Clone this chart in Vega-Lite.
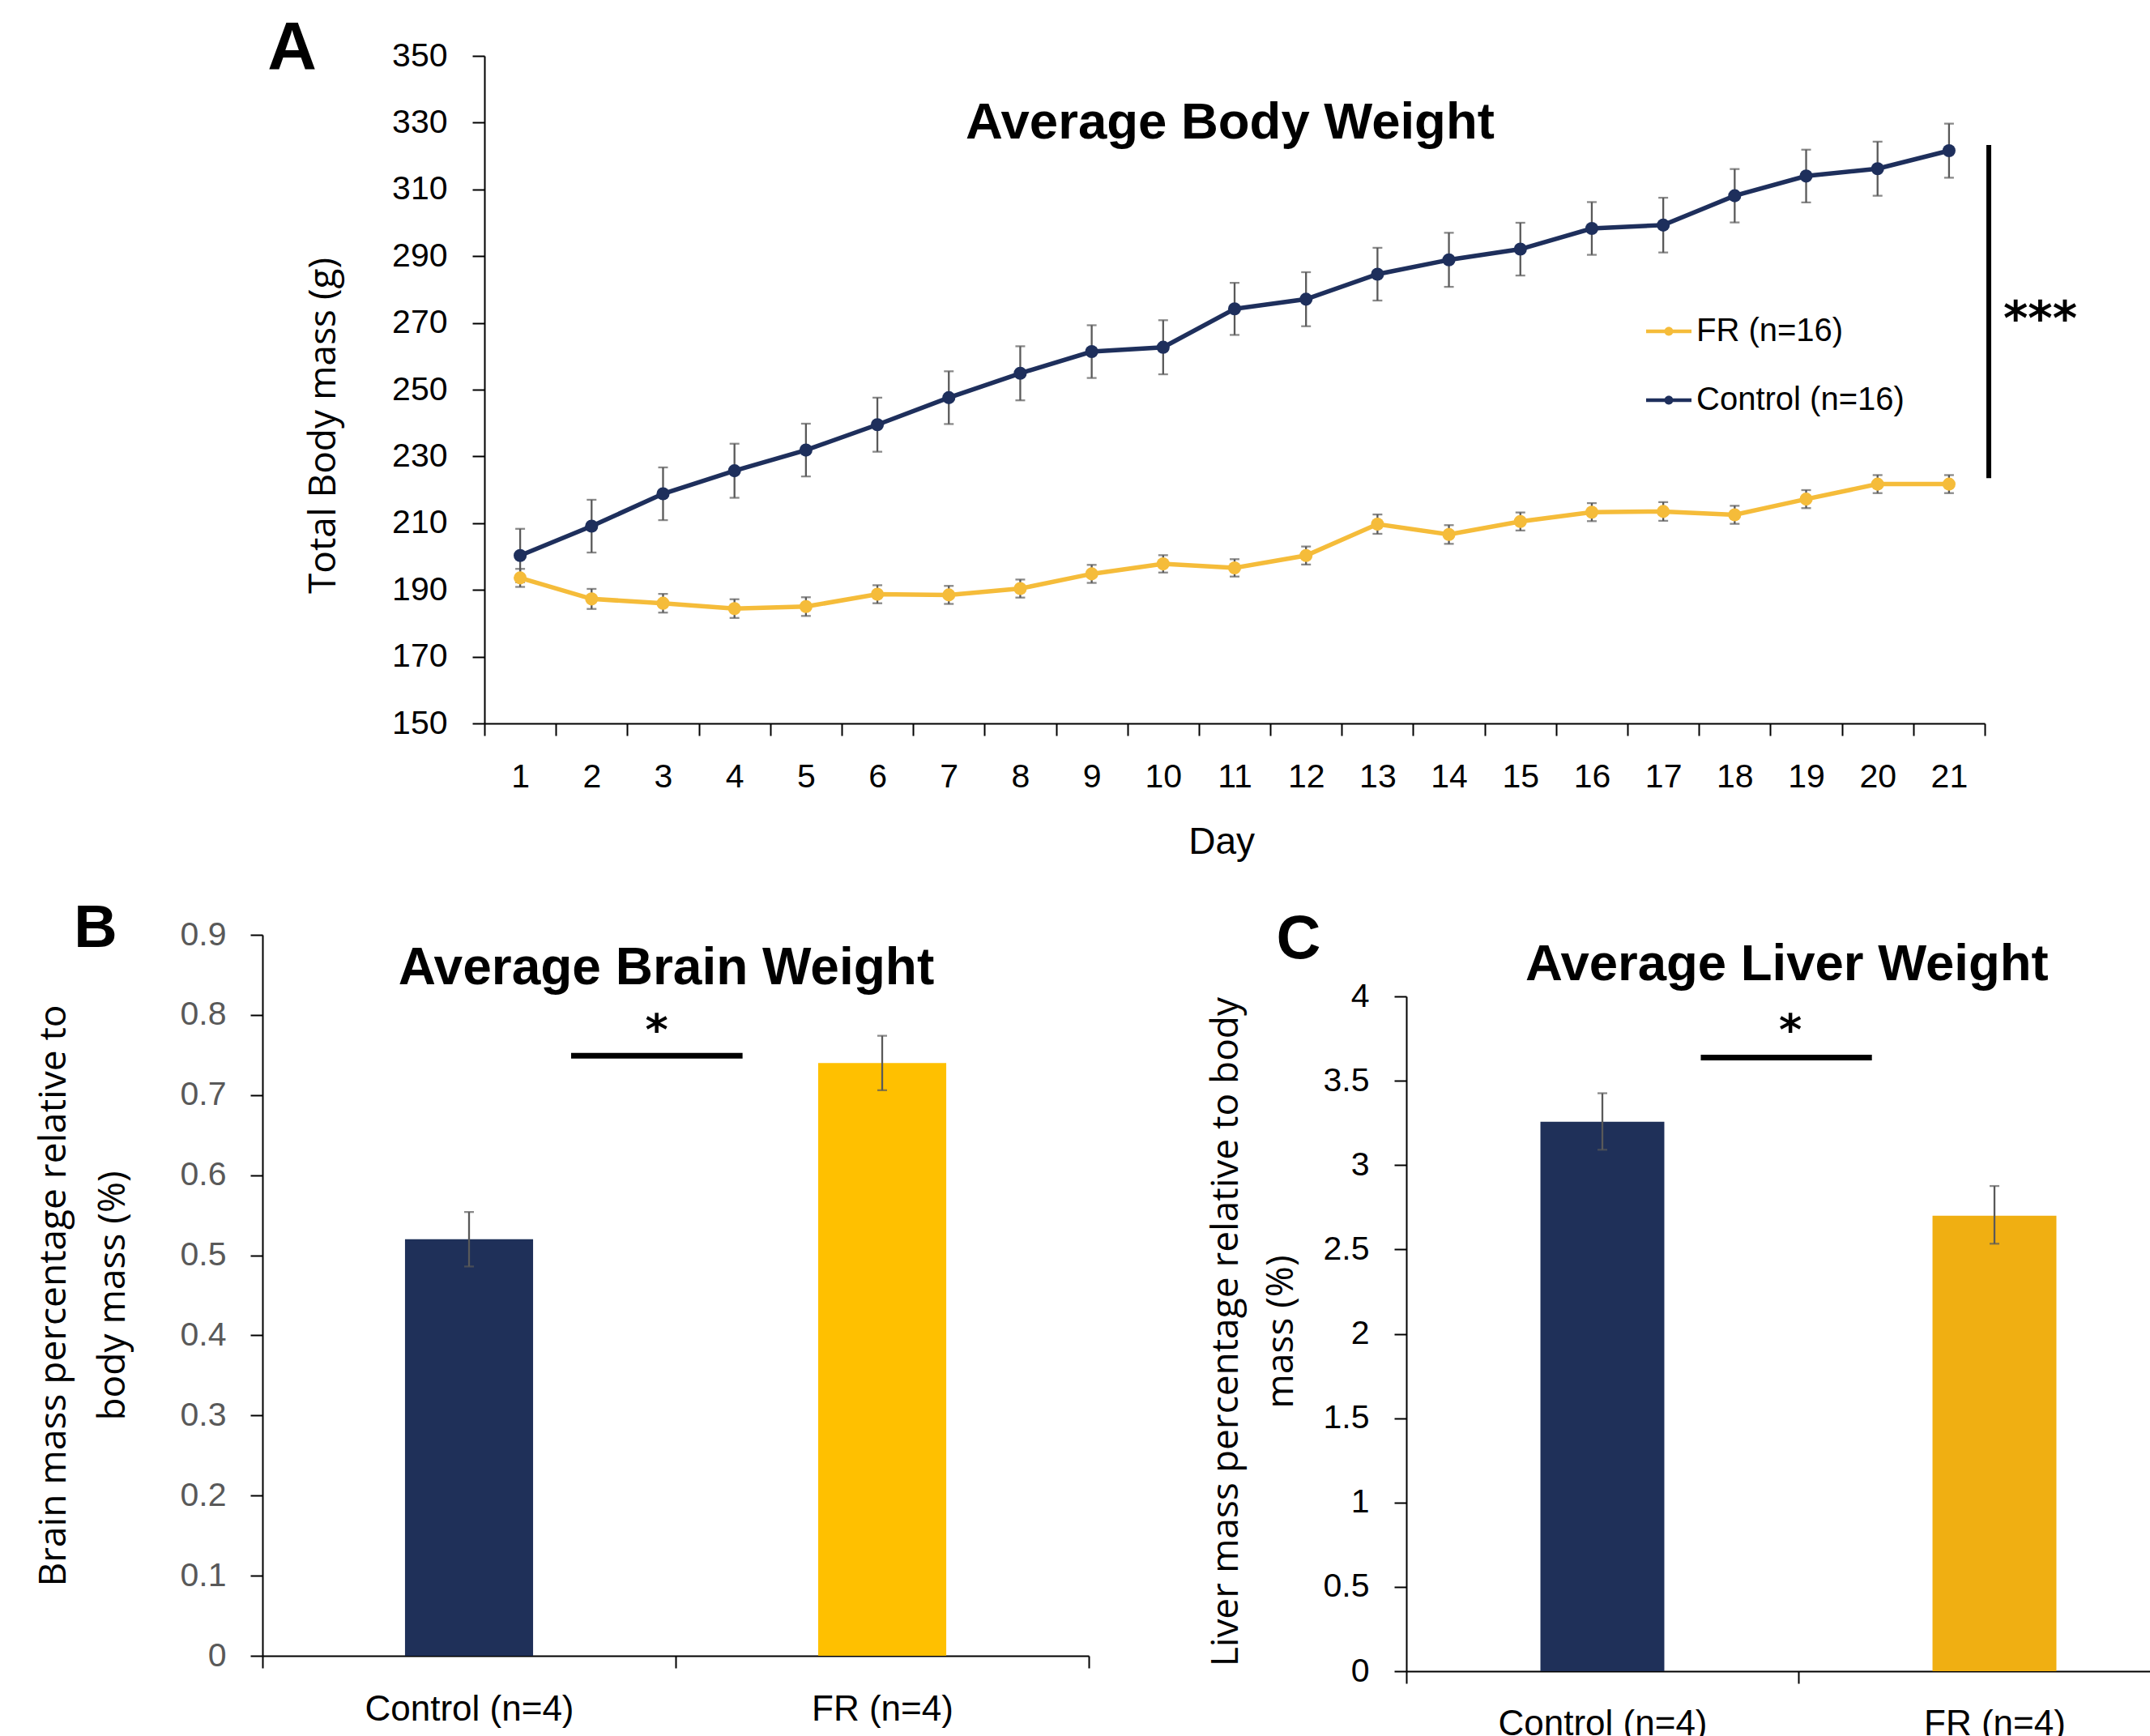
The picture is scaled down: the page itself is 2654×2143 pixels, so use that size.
{
  "$schema": "https://vega.github.io/schema/vega-lite/v6.json",
  "background": "white",
  "padding": {"left": 43, "top": 18, "right": 0, "bottom": 0},
  "config": {
    "view": {"stroke": null},
    "font": "Liberation Sans",
    "axis": {
      "domainColor": "#000000", "tickColor": "#000000", "domainWidth": 2, "tickWidth": 2, "tickSize": 15,
      "grid": false, "labelFont": "Liberation Sans", "labelFontSize": 41, "labelColor": "#000000",
      "titleFont": "Open Sans", "titleFontSize": 46, "titleFontWeight": "normal", "titleColor": "#000000",
      "labelOverlap": false, "labelBound": false, "labelFlush": false, "labelLimit": 0
    }
  },
  "datasets": {
    "body": [
      {"Day": 1, "Group": "Control (n=16)", "Mean": 200.3, "Lo": 192.3, "Hi": 208.3},
      {"Day": 2, "Group": "Control (n=16)", "Mean": 209.1, "Lo": 201.2, "Hi": 217.0},
      {"Day": 3, "Group": "Control (n=16)", "Mean": 218.8, "Lo": 210.9, "Hi": 226.7},
      {"Day": 4, "Group": "Control (n=16)", "Mean": 225.7, "Lo": 217.6, "Hi": 233.8},
      {"Day": 5, "Group": "Control (n=16)", "Mean": 231.9, "Lo": 224.0, "Hi": 239.8},
      {"Day": 6, "Group": "Control (n=16)", "Mean": 239.5, "Lo": 231.4, "Hi": 247.6},
      {"Day": 7, "Group": "Control (n=16)", "Mean": 247.6, "Lo": 239.7, "Hi": 255.5},
      {"Day": 8, "Group": "Control (n=16)", "Mean": 254.9, "Lo": 246.8, "Hi": 263.0},
      {"Day": 9, "Group": "Control (n=16)", "Mean": 261.4, "Lo": 253.5, "Hi": 269.3},
      {"Day": 10, "Group": "Control (n=16)", "Mean": 262.7, "Lo": 254.6, "Hi": 270.8},
      {"Day": 11, "Group": "Control (n=16)", "Mean": 274.2, "Lo": 266.4, "Hi": 282.0},
      {"Day": 12, "Group": "Control (n=16)", "Mean": 277.1, "Lo": 269.0, "Hi": 285.2},
      {"Day": 13, "Group": "Control (n=16)", "Mean": 284.6, "Lo": 276.7, "Hi": 292.5},
      {"Day": 14, "Group": "Control (n=16)", "Mean": 288.9, "Lo": 280.8, "Hi": 297.0},
      {"Day": 15, "Group": "Control (n=16)", "Mean": 292.1, "Lo": 284.2, "Hi": 300.0},
      {"Day": 16, "Group": "Control (n=16)", "Mean": 298.3, "Lo": 290.4, "Hi": 306.2},
      {"Day": 17, "Group": "Control (n=16)", "Mean": 299.3, "Lo": 291.1, "Hi": 307.5},
      {"Day": 18, "Group": "Control (n=16)", "Mean": 308.1, "Lo": 300.1, "Hi": 316.1},
      {"Day": 19, "Group": "Control (n=16)", "Mean": 314.0, "Lo": 306.1, "Hi": 321.9},
      {"Day": 20, "Group": "Control (n=16)", "Mean": 316.2, "Lo": 308.1, "Hi": 324.3},
      {"Day": 21, "Group": "Control (n=16)", "Mean": 321.6, "Lo": 313.5, "Hi": 329.7},
      {"Day": 1, "Group": "FR (n=16)", "Mean": 193.6, "Lo": 190.9, "Hi": 196.3},
      {"Day": 2, "Group": "FR (n=16)", "Mean": 187.3, "Lo": 184.3, "Hi": 190.3},
      {"Day": 3, "Group": "FR (n=16)", "Mean": 186.0, "Lo": 183.2, "Hi": 188.8},
      {"Day": 4, "Group": "FR (n=16)", "Mean": 184.4, "Lo": 181.6, "Hi": 187.2},
      {"Day": 5, "Group": "FR (n=16)", "Mean": 185.0, "Lo": 182.2, "Hi": 187.8},
      {"Day": 6, "Group": "FR (n=16)", "Mean": 188.7, "Lo": 186.0, "Hi": 191.4},
      {"Day": 7, "Group": "FR (n=16)", "Mean": 188.5, "Lo": 185.8, "Hi": 191.2},
      {"Day": 8, "Group": "FR (n=16)", "Mean": 190.4, "Lo": 187.7, "Hi": 193.1},
      {"Day": 9, "Group": "FR (n=16)", "Mean": 194.8, "Lo": 192.1, "Hi": 197.5},
      {"Day": 10, "Group": "FR (n=16)", "Mean": 197.8, "Lo": 195.2, "Hi": 200.4},
      {"Day": 11, "Group": "FR (n=16)", "Mean": 196.6, "Lo": 194.0, "Hi": 199.2},
      {"Day": 12, "Group": "FR (n=16)", "Mean": 200.3, "Lo": 197.6, "Hi": 203.0},
      {"Day": 13, "Group": "FR (n=16)", "Mean": 209.7, "Lo": 206.8, "Hi": 212.6},
      {"Day": 14, "Group": "FR (n=16)", "Mean": 206.6, "Lo": 203.8, "Hi": 209.4},
      {"Day": 15, "Group": "FR (n=16)", "Mean": 210.5, "Lo": 207.8, "Hi": 213.2},
      {"Day": 16, "Group": "FR (n=16)", "Mean": 213.3, "Lo": 210.6, "Hi": 216.0},
      {"Day": 17, "Group": "FR (n=16)", "Mean": 213.5, "Lo": 210.7, "Hi": 216.3},
      {"Day": 18, "Group": "FR (n=16)", "Mean": 212.5, "Lo": 209.8, "Hi": 215.2},
      {"Day": 19, "Group": "FR (n=16)", "Mean": 217.2, "Lo": 214.5, "Hi": 219.9},
      {"Day": 20, "Group": "FR (n=16)", "Mean": 221.7, "Lo": 219.0, "Hi": 224.4},
      {"Day": 21, "Group": "FR (n=16)", "Mean": 221.7, "Lo": 219.0, "Hi": 224.4}
    ],
    "brain": [
      {"Group": "Control (n=4)", "Mean": 0.520, "Lo": 0.486, "Hi": 0.554},
      {"Group": "FR (n=4)", "Mean": 0.740, "Lo": 0.706, "Hi": 0.774}
    ],
    "liver": [
      {"Group": "Control (n=4)", "Mean": 3.257, "Lo": 3.091, "Hi": 3.426},
      {"Group": "FR (n=4)", "Mean": 2.700, "Lo": 2.534, "Hi": 2.876}
    ]
  },
  "bounds": "flush",
  "spacing": 261,
  "resolve": {"scale": {"color": "independent"}},
  "vconcat": [
    {
      "width": 2126,
      "height": 824,
      "resolve": {"scale": {"x": "independent", "y": "independent"}},
      "layer": [
        {
          "data": {"name": "body"},
          "encoding": {
            "x": {
              "field": "Day", "type": "ordinal",
              "scale": {"type": "band", "paddingInner": 0, "paddingOuter": 0, "range": [274, 2126]},
              "axis": {
                "title": "Day", "labelAngle": 0, "tickBand": "extent", "labelPadding": 31,
                "titleFont": "Liberation Sans", "titleFontSize": 46,
                "titleX": 1183.6, "titleY": 160, "titleBaseline": "alphabetic", "titleAlign": "center"
              }
            }
          },
          "layer": [
            {
              "mark": {"type": "errorbar", "color": "#595959", "ticks": {"size": 12, "thickness": 2.3, "color": "#595959"}, "rule": {"strokeWidth": 2.3, "color": "#595959"}},
              "encoding": {
                "y": {"field": "Lo", "type": "quantitative", "title": "Total Body mass (g)", "scale": {"domain": [150, 350], "nice": false, "zero": false}},
                "y2": {"field": "Hi"}
              }
            },
            {
              "mark": {"type": "line", "strokeWidth": 5.5},
              "encoding": {
                "y": {
                  "field": "Mean", "type": "quantitative", "title": "Total Body mass (g)",
                  "scale": {"domain": [150, 350], "nice": false, "zero": false},
                  "axis": {
                    "values": [150, 170, 190, 210, 230, 250, 270, 290, 310, 330, 350],
                    "offset": -274, "labelPadding": 31,
                    "titleX": -185, "titleY": 456, "titleAngle": 270, "titleBaseline": "alphabetic", "titleAlign": "center"
                  }
                },
                "stroke": {
                  "field": "Group", "type": "nominal",
                  "scale": {"domain": ["FR (n=16)", "Control (n=16)"], "range": ["#F5BC3A", "#1E2F5C"]},
                  "legend": null
                }
              }
            },
            {
              "mark": {"type": "circle", "size": 260, "opacity": 1},
              "encoding": {
                "y": {"field": "Mean", "type": "quantitative", "title": "Total Body mass (g)", "scale": {"domain": [150, 350], "nice": false, "zero": false}},
                "color": {
                  "field": "Group", "type": "nominal",
                  "scale": {"domain": ["FR (n=16)", "Control (n=16)"], "range": ["#F5BC3A", "#1E2F5C"]},
                  "legend": {
                    "title": null, "orient": "none", "legendX": 1708, "legendY": 312,
                    "symbolType": "M-1,-0.084L1,-0.084L1,0.084L-1,0.084Z M0.196,0A0.196,0.196 0 1,1 -0.196,0A0.196,0.196 0 1,1 0.196,0Z",
                    "symbolSize": 3136, "symbolStrokeWidth": 0, "symbolOpacity": 1,
                    "labelFont": "Liberation Sans", "labelFontSize": 40, "labelColor": "#000000", "labelLimit": 0,
                    "labelOffset": 6, "rowPadding": 37, "padding": 0, "offset": 0
                  }
                }
              }
            }
          ]
        },
        {
          "data": {"values": [{}]},
          "layer": [
            {
              "mark": {"type": "rule", "strokeWidth": 6, "color": "#000000"},
              "encoding": {
                "x": {"datum": 1.0027, "type": "quantitative", "scale": {"domain": [0, 1], "range": [274, 2126]}, "axis": null},
                "y": {"datum": 323.3, "type": "quantitative", "scale": {"domain": [150, 350], "nice": false, "zero": false}, "axis": null},
                "y2": {"datum": 223.5}
              }
            },
            {
              "mark": {"type": "text", "text": "***", "font": "DejaVu Sans", "fontWeight": "bold", "fontSize": 58, "baseline": "alphabetic", "align": "center", "color": "#000000"},
              "encoding": {
                "x": {"datum": 1.037, "type": "quantitative", "scale": {"domain": [0, 1], "range": [274, 2126]}, "axis": null},
                "y": {"datum": 266.6, "type": "quantitative", "scale": {"domain": [150, 350], "nice": false, "zero": false}, "axis": null}
              }
            },
            {
              "mark": {"type": "text", "text": "Average Body Weight", "font": "Liberation Sans", "fontWeight": "bold", "fontSize": 63.5, "baseline": "alphabetic", "align": "center", "color": "#000000"},
              "encoding": {
                "x": {"datum": 0.497, "type": "quantitative", "scale": {"domain": [0, 1], "range": [274, 2126]}, "axis": null},
                "y": {"datum": 325.3, "type": "quantitative", "scale": {"domain": [150, 350], "nice": false, "zero": false}, "axis": null}
              }
            },
            {
              "mark": {"type": "text", "text": "A", "font": "Liberation Sans", "fontWeight": "bold", "fontSize": 84, "baseline": "alphabetic", "align": "center", "color": "#000000"},
              "encoding": {
                "x": {"datum": -0.1282, "type": "quantitative", "scale": {"domain": [0, 1], "range": [274, 2126]}, "axis": null},
                "y": {"datum": 345.9, "type": "quantitative", "scale": {"domain": [150, 350], "nice": false, "zero": false}, "axis": null}
              }
            }
          ]
        }
      ]
    },
    {
      "bounds": "flush",
      "spacing": 392,
      "resolve": {"scale": {"color": "independent"}},
      "hconcat": [
        {
          "width": 1020,
          "height": 890,
          "resolve": {"scale": {"x": "independent", "y": "independent"}},
          "layer": [
            {
              "data": {"name": "brain"},
              "encoding": {
                "x": {
                  "field": "Group", "type": "nominal", "sort": null,
                  "scale": {"type": "band", "paddingInner": 0, "paddingOuter": 0},
                  "axis": {"title": null, "labelAngle": 0, "tickBand": "extent", "labelFontSize": 44, "labelPadding": 29}
                }
              },
              "layer": [
                {
                  "mark": {"type": "bar", "width": {"band": 0.31}},
                  "encoding": {
                    "y": {
                      "field": "Mean", "type": "quantitative",
                      "title": ["Brain mass percentage relative to", "body mass (%)"],
                      "scale": {"domain": [0, 0.9], "nice": false},
                      "axis": {
                        "values": [0, 0.1, 0.2, 0.3, 0.4, 0.5, 0.6, 0.7, 0.8, 0.9],
                        "format": ".1~f", "labelColor": "#595959", "labelPadding": 30,
                        "titleLineHeight": 73, "titleX": -244, "titleY": 445, "titleAngle": 270,
                        "titleBaseline": "alphabetic", "titleAlign": "center"
                      }
                    },
                    "color": {
                      "field": "Group", "type": "nominal",
                      "scale": {"domain": ["Control (n=4)", "FR (n=4)"], "range": ["#1F3059", "#FFC000"]},
                      "legend": null
                    }
                  }
                },
                {
                  "mark": {"type": "errorbar", "color": "#595959", "ticks": {"size": 12, "thickness": 2.3, "color": "#595959"}, "rule": {"strokeWidth": 2.3, "color": "#595959"}},
                  "encoding": {
                    "y": {"field": "Lo", "type": "quantitative", "title": ["Brain mass percentage relative to", "body mass (%)"], "scale": {"domain": [0, 0.9], "nice": false}},
                    "y2": {"field": "Hi"}
                  }
                }
              ]
            },
            {
              "data": {"values": [{}]},
              "layer": [
                {
                  "mark": {"type": "rule", "strokeWidth": 7, "color": "#000000"},
                  "encoding": {
                    "x": {"datum": 0.3735, "type": "quantitative", "scale": {"domain": [0, 1]}, "axis": null},
                    "x2": {"datum": 0.581},
                    "y": {"datum": 0.749, "type": "quantitative", "scale": {"domain": [0, 0.9], "nice": false}, "axis": null}
                  }
                },
                {
                  "mark": {"type": "text", "text": "*", "font": "DejaVu Sans", "fontWeight": "bold", "fontSize": 54, "baseline": "alphabetic", "align": "center", "color": "#000000"},
                  "encoding": {
                    "x": {"datum": 0.477, "type": "quantitative", "scale": {"domain": [0, 1]}, "axis": null},
                    "y": {"datum": 0.762, "type": "quantitative", "scale": {"domain": [0, 0.9], "nice": false}, "axis": null}
                  }
                },
                {
                  "mark": {"type": "text", "text": "Average Brain Weight", "font": "Liberation Sans", "fontWeight": "bold", "fontSize": 64, "baseline": "alphabetic", "align": "center", "color": "#000000"},
                  "encoding": {
                    "x": {"datum": 0.4887, "type": "quantitative", "scale": {"domain": [0, 1]}, "axis": null},
                    "y": {"datum": 0.8387, "type": "quantitative", "scale": {"domain": [0, 0.9], "nice": false}, "axis": null}
                  }
                },
                {
                  "mark": {"type": "text", "text": "B", "font": "Liberation Sans", "fontWeight": "bold", "fontSize": 74, "baseline": "alphabetic", "align": "center", "color": "#000000"},
                  "encoding": {
                    "x": {"datum": -0.202, "type": "quantitative", "scale": {"domain": [0, 1]}, "axis": null},
                    "y": {"datum": 0.8848, "type": "quantitative", "scale": {"domain": [0, 0.9], "nice": false}, "axis": null}
                  }
                }
              ]
            }
          ]
        },
        {
          "width": 968,
          "height": 909,
          "resolve": {"scale": {"x": "independent", "y": "independent"}},
          "layer": [
            {
              "data": {"name": "liver"},
              "encoding": {
                "x": {
                  "field": "Group", "type": "nominal", "sort": null,
                  "scale": {"type": "band", "paddingInner": 0, "paddingOuter": 0},
                  "axis": {"title": null, "labelAngle": 0, "tickBand": "extent", "labelFontSize": 44, "labelPadding": 28}
                }
              },
              "layer": [
                {
                  "mark": {"type": "bar", "width": {"band": 0.316}},
                  "encoding": {
                    "y": {
                      "field": "Mean", "type": "quantitative",
                      "title": ["Liver mass percentage relative to body", "mass (%)"],
                      "scale": {"domain": [0, 4], "nice": false, "range": [909, 76]},
                      "axis": {
                        "values": [0, 0.5, 1, 1.5, 2, 2.5, 3, 3.5, 4],
                        "format": ".1~f", "labelPadding": 31,
                        "titleLineHeight": 68, "titleX": -209, "titleY": 489.6, "titleAngle": 270,
                        "titleBaseline": "alphabetic", "titleAlign": "center"
                      }
                    },
                    "color": {
                      "field": "Group", "type": "nominal",
                      "scale": {"domain": ["Control (n=4)", "FR (n=4)"], "range": ["#1F3059", "#F0AF12"]},
                      "legend": null
                    }
                  }
                },
                {
                  "mark": {"type": "errorbar", "color": "#595959", "ticks": {"size": 12, "thickness": 2.3, "color": "#595959"}, "rule": {"strokeWidth": 2.3, "color": "#595959"}},
                  "encoding": {
                    "y": {"field": "Lo", "type": "quantitative", "title": ["Liver mass percentage relative to body", "mass (%)"], "scale": {"domain": [0, 4], "nice": false, "range": [909, 76]}},
                    "y2": {"field": "Hi"}
                  }
                }
              ]
            },
            {
              "data": {"values": [{}]},
              "layer": [
                {
                  "mark": {"type": "rule", "strokeWidth": 7, "color": "#000000"},
                  "encoding": {
                    "x": {"datum": 0.3755, "type": "quantitative", "scale": {"domain": [0, 1]}, "axis": null},
                    "x2": {"datum": 0.5937},
                    "y": {"datum": 3.638, "type": "quantitative", "scale": {"domain": [0, 4], "nice": false, "range": [909, 76]}, "axis": null}
                  }
                },
                {
                  "mark": {"type": "text", "text": "*", "font": "DejaVu Sans", "fontWeight": "bold", "fontSize": 54, "baseline": "alphabetic", "align": "center", "color": "#000000"},
                  "encoding": {
                    "x": {"datum": 0.4897, "type": "quantitative", "scale": {"domain": [0, 1]}, "axis": null},
                    "y": {"datum": 3.71, "type": "quantitative", "scale": {"domain": [0, 4], "nice": false, "range": [909, 76]}, "axis": null}
                  }
                },
                {
                  "mark": {"type": "text", "text": "Average Liver Weight", "font": "Liberation Sans", "fontWeight": "bold", "fontSize": 63.5, "baseline": "alphabetic", "align": "center", "color": "#000000"},
                  "encoding": {
                    "x": {"datum": 0.4853, "type": "quantitative", "scale": {"domain": [0, 1]}, "axis": null},
                    "y": {"datum": 4.097, "type": "quantitative", "scale": {"domain": [0, 4], "nice": false, "range": [909, 76]}, "axis": null}
                  }
                },
                {
                  "mark": {"type": "text", "text": "C", "font": "Liberation Sans", "fontWeight": "bold", "fontSize": 76, "baseline": "alphabetic", "align": "center", "color": "#000000"},
                  "encoding": {
                    "x": {"datum": -0.1374, "type": "quantitative", "scale": {"domain": [0, 1]}, "axis": null},
                    "y": {"datum": 4.227, "type": "quantitative", "scale": {"domain": [0, 4], "nice": false, "range": [909, 76]}, "axis": null}
                  }
                }
              ]
            }
          ]
        }
      ]
    }
  ]
}
